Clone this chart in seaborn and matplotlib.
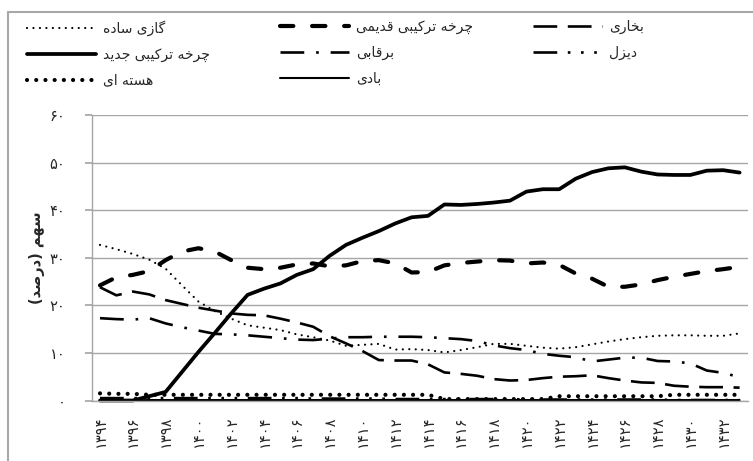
import matplotlib
matplotlib.use('Agg')
import matplotlib.pyplot as plt
import seaborn as sns
from matplotlib.lines import Line2D

# data (share of generation, percent)
years = list(range(1394, 1434))
steam = [23.8, 22.1, 22.9, 22.3, 21.1, 20.3, 19.5, 18.9, 18.3, 18.0,
         17.9, 17.2, 16.4, 15.5, 13.5, 12.0, 10.4, 8.5, 8.4, 8.4,
         7.6, 5.9, 5.6, 5.2, 4.5, 4.2, 4.3, 4.7, 5.0, 5.1,
         5.3, 4.7, 4.2, 3.8, 3.7, 3.1, 2.9, 2.8, 2.8, 2.7]
old_cc = [24.2, 25.9, 26.4, 27.2, 29.5, 31.3, 32.0, 31.3, 29.5, 27.9,
          27.6, 27.9, 28.6, 28.8, 28.2, 28.4, 29.3, 29.5, 28.8, 26.9,
          27.0, 28.4, 28.9, 29.2, 29.5, 29.4, 28.8, 29.0, 28.5, 26.7,
          25.6, 23.9, 23.9, 24.4, 25.3, 26.0, 26.6, 27.2, 27.6, 28.1]
gas = [32.7, 31.8, 30.8, 29.6, 27.7, 24.2, 20.8, 18.8, 17.2, 15.8,
       15.3, 14.8, 13.9, 13.3, 12.6, 11.5, 11.7, 11.9, 10.7, 10.8,
       10.6, 10.1, 10.6, 11.2, 11.9, 11.9, 11.5, 11.1, 10.9, 11.2,
       11.8, 12.4, 12.9, 13.3, 13.6, 13.7, 13.7, 13.6, 13.6, 14.1]
diesel = [0.5, 0.5, 0.5, 0.5, 0.5, 0.5, 0.5, 0.5, 0.5, 0.5,
          0.5, 0.5, 0.5, 0.4, 0.4, 0.4, 0.4, 0.4, 0.3, 0.3,
          0.3, 0.3, 0.3, 0.3, 0.3, 0.3, 0.2, 0.2, 0.2, 0.2,
          0.2, 0.2, 0.2, 0.2, 0.2, 0.1, 0.1, 0.1, 0.1, 0.1]
hydro = [17.3, 17.1, 17.0, 17.3, 16.2, 15.4, 14.7, 14.0, 13.9, 13.7,
         13.4, 13.1, 12.8, 12.7, 13.0, 13.3, 13.3, 13.4, 13.4, 13.4,
         13.3, 13.1, 12.9, 12.5, 11.6, 11.0, 10.6, 9.8, 9.4, 9.1,
         8.2, 8.6, 9.0, 9.0, 8.3, 8.2, 7.8, 6.3, 5.8, 4.9]
new_cc = [0.0, 0.0, 0.0, 0.9, 1.8, 6.0, 10.2, 14.2, 18.3, 22.2,
          23.5, 24.6, 26.4, 27.6, 30.4, 32.7, 34.2, 35.6, 37.2, 38.5,
          38.8, 41.2, 41.1, 41.3, 41.6, 42.0, 43.9, 44.4, 44.4, 46.6,
          48.0, 48.8, 49.0, 48.1, 47.5, 47.4, 47.4, 48.3, 48.4, 47.9]
wind = [0.0, 0.0, 0.0, 0.1, 0.1, 0.1, 0.1, 0.1, 0.1, 0.1,
        0.1, 0.1, 0.1, 0.1, 0.1, 0.1, 0.1, 0.1, 0.1, 0.1,
        0.1, 0.1, 0.1, 0.1, 0.1, 0.1, 0.1, 0.1, 0.1, 0.1,
        0.1, 0.1, 0.1, 0.1, 0.1, 0.1, 0.1, 0.1, 0.1, 0.1]
nuclear = [1.5, 1.4, 1.4, 1.2, 1.2, 1.2, 1.2, 1.2, 1.2, 1.2,
           1.2, 1.2, 1.2, 1.2, 1.2, 1.2, 1.2, 1.2, 1.2, 1.2,
           1.2, 0.3, 0.3, 0.3, 0.3, 0.3, 0.3, 0.3, 0.9, 0.9,
           0.9, 0.9, 0.9, 0.9, 0.9, 1.2, 1.2, 1.2, 1.2, 1.2]

names = ['بخاری', 'چرخه ترکیبی قدیمی', 'گازی ساده', 'دیزل',
         'برقابی', 'چرخه ترکیبی جدید', 'بادی', 'هسته ای']
series = [steam, old_cc, gas, diesel, hydro, new_cc, wind, nuclear]
y_label = 'سهم (درصد)'
y_ticks = [0, 10, 20, 30, 40, 50, 60]

# (linewidth, linestyle, capstyle)
styles = [
    (1.9, (0, (9, 4)), 'butt'),
    (3.0, (0, (3.2, 4.5)), 'round'),
    (1.6, (0, (0.01, 2.9)), 'round'),
    (1.9, (0, (9, 4, 1, 4, 1, 4, 1, 4)), 'butt'),
    (1.9, (0, (9, 4.5, 1, 4.5)), 'butt'),
    (2.7, '-', 'round'),
    (1.5, '-', 'round'),
    (3.0, (0, (0.01, 2.2)), 'round'),
]

# matplotlib has no arabic shaping, so pick presentation forms by hand
forms = {
    'ا': ('\uFE8D', '\uFE8E'), 'د': ('\uFEA9', '\uFEAA'),
    'ذ': ('\uFEAB', '\uFEAC'), 'ر': ('\uFEAD', '\uFEAE'),
    'ز': ('\uFEAF', '\uFEB0'), 'ژ': ('\uFB8A', '\uFB8B'),
    'و': ('\uFEED', '\uFEEE'),
    'ب': ('\uFE8F', '\uFE90', '\uFE91', '\uFE92'),
    'پ': ('\uFB56', '\uFB57', '\uFB58', '\uFB59'),
    'ت': ('\uFE95', '\uFE96', '\uFE97', '\uFE98'),
    'ج': ('\uFE9D', '\uFE9E', '\uFE9F', '\uFEA0'),
    'چ': ('\uFB7A', '\uFB7B', '\uFB7C', '\uFB7D'),
    'خ': ('\uFEA5', '\uFEA6', '\uFEA7', '\uFEA8'),
    'س': ('\uFEB1', '\uFEB2', '\uFEB3', '\uFEB4'),
    'ص': ('\uFEB9', '\uFEBA', '\uFEBB', '\uFEBC'),
    'ق': ('\uFED5', '\uFED6', '\uFED7', '\uFED8'),
    'ک': ('\uFB8E', '\uFB8F', '\uFB90', '\uFB91'),
    'گ': ('\uFB92', '\uFB93', '\uFB94', '\uFB95'),
    'ل': ('\uFEDD', '\uFEDE', '\uFEDF', '\uFEE0'),
    'م': ('\uFEE1', '\uFEE2', '\uFEE3', '\uFEE4'),
    'ن': ('\uFEE5', '\uFEE6', '\uFEE7', '\uFEE8'),
    'ه': ('\uFEE9', '\uFEEA', '\uFEEB', '\uFEEC'),
    'ی': ('\uFBFC', '\uFBFD', '\uFBFE', '\uFBFF'),
}


def shape(text):
    out = []
    for i, ch in enumerate(text):
        f = forms.get(ch)
        if f is None:
            out.append(ch)
            continue
        prev = text[i - 1] if i > 0 else ''
        nxt = text[i + 1] if i + 1 < len(text) else ''
        jp = prev in forms and len(forms[prev]) == 4
        jn = len(f) == 4 and nxt in forms
        out.append(f[{(False, False): 0, (True, False): 1,
                      (False, True): 2, (True, True): 3}[(jp, jn)]])
    return ''.join(reversed(out)).translate(str.maketrans('()', ')('))


fa = str.maketrans('0123456789', '۰۱۲۳۴۵۶۷۸۹')

sns.set_theme(style='white')
plt.rcParams['font.family'] = ['DejaVu Sans']

fig = plt.figure(figsize=(7.53, 4.61), dpi=100)
ax = fig.add_axes([91.8 / 753, 60.5 / 461, 656 / 753, 285.5 / 461])

pos = list(range(len(years)))
handles = []
for name, vals, (lw, ls, cap) in zip(names, series, styles):
    sns.lineplot(x=pos, y=vals, ax=ax, color='black', linewidth=lw,
                 linestyle=ls, estimator=None, errorbar=None, legend=False)
    ln = ax.lines[-1]
    ln.set_dash_capstyle(cap)
    ln.set_solid_capstyle(cap)
    ln.set_clip_on(False)
    h = Line2D([], [], color='black', linewidth=lw, linestyle=ls,
               dash_capstyle=cap, solid_capstyle=cap)
    handles.append((h, shape(name)))

grey = '#a6a6a6'
ax.set_xlim(-0.5, len(years) - 0.5)
ax.set_ylim(0, 60)
ax.set_yticks(y_ticks)
ax.set_yticklabels([str(t).translate(fa) for t in y_ticks], fontsize=10.5)
ax.set_xticks(pos[::2])
ax.set_xticklabels([str(y).translate(fa) for y in years[::2]],
                   rotation=90, fontsize=10.5)
ax.set_xticks([p - 0.5 for p in pos] + [pos[-1] + 0.5], minor=True)
ax.tick_params(axis='x', which='major', length=0, pad=11)
ax.tick_params(axis='x', which='minor', length=5, color=grey, direction='out')
ax.tick_params(axis='y', length=5, color=grey, direction='out', pad=14, left=True)
ax.yaxis.grid(True, color=grey, linewidth=1)
ax.xaxis.grid(False)
for s in ['top', 'right']:
    ax.spines[s].set_visible(False)
for s in ['left', 'bottom']:
    ax.spines[s].set_color(grey)
    ax.spines[s].set_linewidth(1)
ax.set_ylabel(shape(y_label), fontsize=10.5, fontweight='bold')
ax.yaxis.set_label_coords(-0.072, 0.5)
ax.set_xlabel('')

# legend: three columns, right to left
cols = [[2, 5, 7], [1, 4, 6], [0, 3]]
col_x = [27, 280, 533]
for idxs, x in zip(cols, col_x):
    fig.legend([handles[i][0] for i in idxs], [handles[i][1] for i in idxs],
               loc='upper left', bbox_to_anchor=(x / 753, 1 - 20 / 461),
               frameon=False, fontsize=10, handlelength=5, handletextpad=0.45,
               labelspacing=0.85, borderpad=0, borderaxespad=0)

# chart frame (cropped on right and bottom)
fig.add_artist(Line2D([8 / 753, 8 / 753], [0, 1 - 12 / 461],
                      transform=fig.transFigure, color='#a8a8a8', linewidth=1.5))
fig.add_artist(Line2D([8 / 753, 1], [1 - 12 / 461, 1 - 12 / 461],
                      transform=fig.transFigure, color='#a8a8a8', linewidth=1.5))

fig.savefig('out.png', dpi=100)
